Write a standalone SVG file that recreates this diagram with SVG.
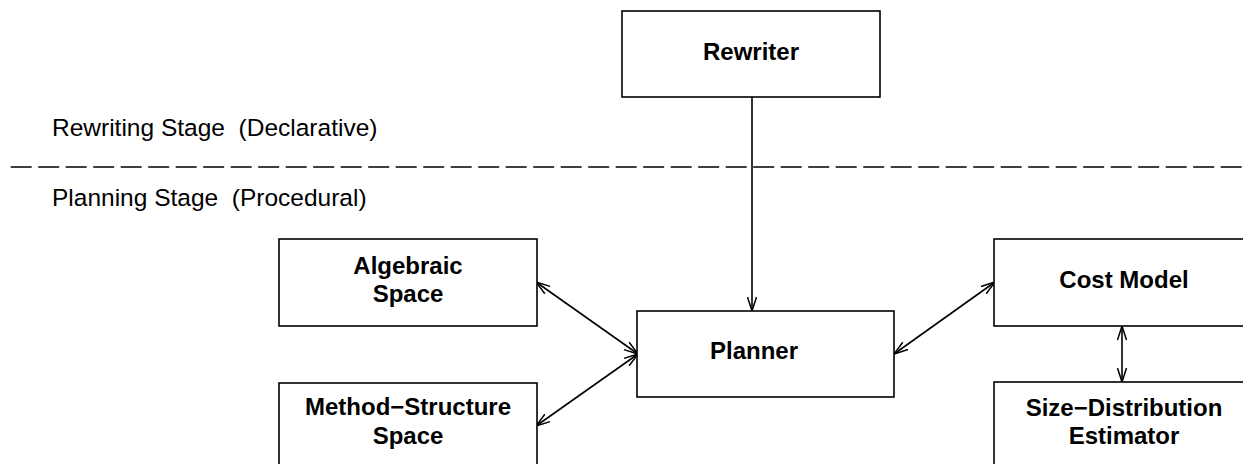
<svg xmlns="http://www.w3.org/2000/svg" width="1243" height="464" viewBox="0 0 1243 464">
<style>
.box{fill:#fff;stroke:#000;stroke-width:1.6}
.lbl{font-family:"Liberation Sans",Arial,Helvetica,sans-serif;font-weight:bold;font-size:24px;text-anchor:middle;fill:#000}
.stage{font-family:"Liberation Sans",Arial,Helvetica,sans-serif;font-size:24.5px;fill:#000;white-space:pre}
.conn{stroke:#000;stroke-width:1.6;fill:none}
</style>
<defs>
<marker id="ah" markerUnits="userSpaceOnUse" markerWidth="16" markerHeight="10" refX="14" refY="4.5" orient="auto-start-reverse" overflow="visible">
<path d="M0,0 L14,4.5 L0,9" fill="none" stroke="#000" stroke-width="1.5"/>
</marker>
</defs>
<rect width="1243" height="464" fill="#fff"/>
<g id="stages">
<text class="stage" x="52" y="135.5" xml:space="preserve">Rewriting Stage  (Declarative)</text>
<line x1="10.7" y1="167" x2="1243" y2="167" stroke="#000" stroke-width="1.3" stroke-dasharray="21 6.5"/>
<text class="stage" x="52" y="205.5" xml:space="preserve">Planning Stage  (Procedural)</text>
</g>
<g id="connectors">
<line class="conn" x1="752" y1="97" x2="752" y2="311" marker-end="url(#ah)"/>
<line class="conn" x1="536" y1="282" x2="638" y2="354" marker-start="url(#ah)" marker-end="url(#ah)"/>
<line class="conn" x1="536" y1="426" x2="638" y2="354" marker-start="url(#ah)" marker-end="url(#ah)"/>
<line class="conn" x1="894" y1="354" x2="995" y2="282" marker-start="url(#ah)" marker-end="url(#ah)"/>
<line class="conn" x1="1122" y1="326" x2="1122" y2="382" marker-start="url(#ah)" marker-end="url(#ah)"/>
</g>
<g id="rewriter">
<rect class="box" x="622" y="11" width="258" height="86"/>
<text class="lbl" x="751" y="60">Rewriter</text>
</g>
<g id="algebraic">
<rect class="box" x="279" y="239" width="258" height="87"/>
<text class="lbl" x="408" y="274">Algebraic</text>
<text class="lbl" x="408" y="302">Space</text>
</g>
<g id="method">
<rect class="box" x="279" y="383" width="258" height="87"/>
<text class="lbl" x="408" y="415">Method−Structure</text>
<text class="lbl" x="408" y="444">Space</text>
</g>
<g id="planner">
<rect class="box" x="637" y="311" width="257" height="86"/>
<text class="lbl" x="754" y="359">Planner</text>
</g>
<g id="costmodel">
<rect class="box" x="994" y="239" width="260" height="87"/>
<text class="lbl" x="1124" y="288">Cost Model</text>
</g>
<g id="sizedist">
<rect class="box" x="994" y="382" width="260" height="88"/>
<text class="lbl" x="1124" y="416">Size−Distribution</text>
<text class="lbl" x="1124" y="444">Estimator</text>
</g>
</svg>
